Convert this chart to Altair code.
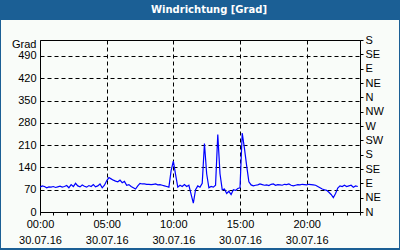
import altair as alt
import pandas as pd

# time of day in minutes (10-minute readings)
minutes = list(range(0, 1440, 10))

# wind direction in degrees
direction = [
    78, 82, 80, 76, 79, 78,      # 0h
    80, 77, 79, 81, 78, 80,      # 1h
    83, 76, 86, 80, 90, 82,      # 2h
    79, 85, 81, 78, 83, 80,      # 3h
    86, 79, 82, 88, 76, 84,      # 4h
    98, 108, 104, 100, 97, 95,   # 5h
    100, 92, 96, 84, 86, 80,     # 6h
    76, 72, 82, 90, 88, 88,      # 7h
    87, 87, 86, 87, 88, 85,      # 8h
    86, 84, 82, 80, 78, 130,     # 9h
    160, 118, 78, 84, 80, 86,    # 10h
    80, 84, 55, 28, 70, 82,      # 11h
    78, 90, 215, 120, 76, 80,    # 12h
    78, 84, 243, 120, 70, 72,    # 13h
    58, 65, 55, 70, 68, 74,      # 14h
    76, 248, 200, 145, 95, 85,   # 15h
    82, 84, 85, 88, 86, 84,      # 16h
    85, 83, 87, 88, 84, 86,      # 17h
    85, 84, 87, 86, 88, 84,      # 18h
    82, 84, 86, 85, 87, 86,      # 19h
    85, 87, 86, 85, 84, 80,      # 20h
    76, 72, 70, 68, 62, 55,      # 21h
    45, 58, 75, 82, 80, 84,      # 22h
    80, 82, 84, 78, 82, 80,      # 23h
]

title_text = "Windrichtung [Grad]"
left_ticks = [0, 70, 140, 210, 280, 350, 420, 490]
right_ticks = [0, 45, 90, 135, 180, 225, 270, 315, 360, 405, 450, 495, 540]
compass = ["N", "NE", "E", "SE", "S", "SW", "W", "NW"]
hour_ticks = list(range(0, 25))
date_label = "30.07.16"

df = pd.DataFrame({"hour": [m / 60 for m in minutes], "deg": direction})

FONT = "Liberation Sans"
BLUE = "#1b5f95"
LIGHT = "#f9fcf9"

x_enc = alt.X(
    "hour:Q",
    scale=alt.Scale(domain=[0, 24], nice=False),
    axis=alt.Axis(
        values=hour_ticks,
        title=None,
        labelExpr="datum.value % 5 === 0 && datum.value < 24 ? [(datum.value < 10 ? '0' : '') + datum.value + ':00', '" + date_label + "'] : ''",
        labelOverlap=False,
        labelFlush=False,
        labelFont=FONT,
        labelFontSize=11,
        labelColor="black",
        labelLineHeight=16,
        labelPadding=3,
        tickSize=3,
        tickColor="black",
        domainColor="black",
        grid=True,
        gridColor="black",
        gridDash=[4, 3],
        gridOpacity={"condition": {"test": "datum.value % 5 === 0 && datum.value > 0 && datum.value < 24", "value": 1}, "value": 0},
    ),
)

line = alt.Chart(df).mark_line(color="#0000ff", strokeWidth=1.2, clip=True).encode(
    x=x_enc,
    y=alt.Y(
        "deg:Q",
        scale=alt.Scale(domain=[0, 540], nice=False),
        axis=alt.Axis(
            values=left_ticks,
            title="Grad",
            titleAngle=0,
            titleAlign="right",
            titleBaseline="middle",
            titleX=-4,
            titleY=4,
            titleFont=FONT,
            titleFontSize=11,
            titleFontWeight="normal",
            titleColor="black",
            labelFont=FONT,
            labelFontSize=11,
            labelColor="black",
            labelPadding=4,
            ticks=False,
            domainColor="black",
            grid=True,
            gridColor="black",
            gridDash=[4, 3],
            gridOpacity={"condition": {"test": "datum.value > 0", "value": 1}, "value": 0},
        ),
    ),
)

right = alt.Chart(df).mark_line(opacity=0).encode(
    x=x_enc,
    y=alt.Y(
        "deg:Q",
        scale=alt.Scale(domain=[0, 540], nice=False),
        axis=alt.Axis(
            orient="right",
            values=right_ticks,
            title=None,
            labelExpr="['" + "','".join(compass) + "'][(datum.value / 45) % 8]",
            labelFont=FONT,
            labelFontSize=11,
            labelColor="black",
            labelPadding=2,
            tickSize=3,
            tickColor="black",
            domainColor="black",
            grid=False,
        ),
    ),
)

one = alt.Data(values=[{}])

title_bar = alt.Chart(one).mark_rect(color=BLUE).encode(
    x=alt.value(-40), x2=alt.value(360), y=alt.value(-40), y2=alt.value(-20)
)
left_border = alt.Chart(one).mark_rect(color=BLUE).encode(
    x=alt.value(-40), x2=alt.value(-39), y=alt.value(-40), y2=alt.value(210)
)
right_border = alt.Chart(one).mark_rect(color=BLUE).encode(
    x=alt.value(359), x2=alt.value(360), y=alt.value(-40), y2=alt.value(210)
)
bottom_border = alt.Chart(one).mark_rect(color=BLUE).encode(
    x=alt.value(-40), x2=alt.value(360), y=alt.value(208), y2=alt.value(210)
)
title = alt.Chart(one).mark_text(
    color="white", font="DejaVu Sans", fontSize=10, fontWeight="bold", align="center", baseline="middle"
).encode(x=alt.value(169), y=alt.value(-30), text=alt.value(title_text))

chart = alt.layer(
    line, right, title_bar, left_border, right_border, bottom_border, title
).resolve_scale(y="independent").properties(
    width=320,
    height=172,
    padding={"left": 40, "top": 40, "right": 40, "bottom": 38},
    autosize=alt.AutoSizeParams(type="none"),
    background=LIGHT,
).configure_view(stroke="black", strokeWidth=1, fill=LIGHT)

chart.save("out.html", embed_options={"renderer": "svg", "actions": False})
